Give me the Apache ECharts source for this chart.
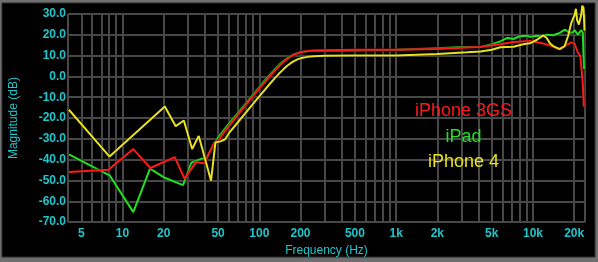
<!DOCTYPE html>
<html><head><meta charset="utf-8">
<script src="https://cdn.jsdelivr.net/npm/echarts@6/dist/echarts.min.js"></script>
<style>html,body{margin:0;padding:0;background:#6f6f6f;}#c{width:598px;height:262px;}</style>
</head><body><div id="c"></div>
<script>
// grid line frequencies (Hz) and labelled frequencies
const gridFreqs = [4,5,6,7,8,9,10,20,30,40,50,60,70,80,90,100,200,300,400,500,600,700,800,900,1000,2000,3000,4000,5000,6000,7000,8000,9000,10000,20000,24000];
const labelFreqs = [5,10,20,50,100,200,500,1000,2000,5000,10000,20000];
const yTicks = [-70,-60,-50,-40,-30,-20,-10,0,10,20,30];

// [frequency Hz, magnitude dB]
const iphone3gs = [
[4.06,-45.9],[7.9,-44.8],[12.0,-34.9],[16.0,-44.0],[24.1,-38.8],[28.4,-49.1],[34.5,-41.2],[39.7,-41.7],[46.9,-31.7],[50,-31.0],[55,-27.0],[60,-24.0],[70,-18.3],[80,-13.6],[90,-9.5],[100,-5.9],[110,-2.7],[120,0.2],[130,2.8],[140,5.0],[150,6.9],[160,8.4],[170,9.6],[180,10.5],[200,11.6],[225,12.2],[250,12.5],[300,12.6],[500,12.8],[1000,12.8],[2000,13.2],[3300,13.9],[4130,14.1],[5770,15.5],[7200,16.5],[9500,17.0],[11240,16.2],[12560,15.4],[14030,14.2],[15250,13.2],[15700,13.5],[17060,14.6],[19060,16.4],[19590,17.0],[20140,15.6],[21280,11.5],[22170,9.9],[22750,2.1],[23140,-4.0],[23550,-14.5]
];
const ipad = [
[4.06,-37.5],[8.05,-47.5],[12.0,-65.2],[15.9,-44.3],[20.4,-48.7],[27.7,-52.2],[31.8,-41.5],[37.6,-39.6],[40.8,-39.3],[48.2,-31.0],[50,-29.3],[55,-25.8],[60,-22.7],[70,-17.4],[80,-12.8],[90,-8.7],[100,-5.1],[110,-1.8],[120,1.0],[130,3.5],[140,5.7],[150,7.4],[165,9.4],[180,10.7],[200,11.6],[225,12.1],[250,12.3],[300,12.4],[500,12.5],[1000,12.8],[2000,13.6],[3000,14.1],[4130,14.2],[5000,15.5],[5770,16.8],[6500,18.5],[7200,18.0],[8000,19.3],[9000,19.6],[9500,19.0],[10640,19.6],[11880,19.4],[12560,20.0],[14030,19.8],[15700,20.9],[17060,22.5],[18540,20.9],[19590,21.3],[20140,22.3],[21280,20.1],[22540,22.2],[23140,21.0],[23420,10.0],[23600,3.5]
];
const iphone4 = [
[4.06,-16.0],[8.05,-38.5],[20.4,-14.4],[24.5,-23.9],[28.1,-21.2],[32.3,-34.9],[36.1,-28.6],[44.4,-50.1],[47.8,-31.7],[52,-31.2],[56,-30.3],[60,-27.3],[70,-21.9],[80,-17.3],[90,-13.2],[100,-9.6],[110,-6.3],[120,-3.4],[130,-0.8],[140,1.5],[150,3.4],[160,5.1],[175,7.0],[190,8.2],[200,8.7],[225,9.4],[250,9.7],[300,9.9],[500,10.0],[1000,10.1],[2000,10.8],[3300,11.6],[4130,12.0],[5000,12.8],[5770,14.0],[7200,14.3],[8500,15.5],[9500,15.9],[10640,17.5],[11880,19.7],[12560,18.6],[13280,16.0],[14030,14.6],[15700,13.1],[16140,13.3],[17060,14.6],[18030,19.3],[19060,25.7],[20140,29.6],[20600,32.5],[21000,27.2],[21630,24.9],[22540,29.6],[22910,34.0],[23420,33.0],[23800,22.0]
];
const seriesNames = ['iPhone 3GS','iPad','iPhone 4'];
const seriesColors = ['#ff1a1a','#22e022','#e8e020'];

const cyan = '#1fc6cc';
const gridColor = '#484848';
const chart = echarts.init(document.getElementById('c'));
const mkLine = (name, data, color) => ({
  name, type:'line', data, showSymbol:false, clip:false, smooth:false,
  lineStyle:{color, width:2, shadowColor:'rgba(0,0,0,0.9)', shadowBlur:2},
  itemStyle:{color}, z:3
});
const legendFont = '18px "Liberation Sans", Arial, sans-serif';
chart.setOption({
  backgroundColor:'transparent',
  animation:false,
  graphic:[
    {type:'rect', shape:{x:2,y:3,width:593,height:254}, style:{fill:'#000', stroke:'#2a2a2a', lineWidth:1}, z:-10, silent:true},
    {type:'text', x:463.5, y:111.5, style:{text:seriesNames[0], fill:seriesColors[0], font:legendFont, textAlign:'center', textVerticalAlign:'middle'}, z:10},
    {type:'text', x:463.5, y:137, style:{text:seriesNames[1], fill:seriesColors[1], font:legendFont, textAlign:'center', textVerticalAlign:'middle'}, z:10},
    {type:'text', x:463.5, y:162.5, style:{text:seriesNames[2], fill:seriesColors[2], font:legendFont, textAlign:'center', textVerticalAlign:'middle'}, z:10}
  ],
  grid:{left:64, top:14, width:521, height:212, containLabel:false},
  xAxis:{
    type:'log', logBase:10, min:4, max:24000,
    axisLine:{show:false},
    axisTick:{show:false, customValues:gridFreqs},
    splitLine:{show:true, lineStyle:{color:gridColor, width:2}},
    axisLabel:{customValues:labelFreqs, color:cyan, fontSize:12, fontWeight:'bold', fontFamily:'"Liberation Sans", Arial, sans-serif', margin:6,
      formatter:v => v >= 1000 ? (v/1000)+'k' : String(v)},
    name:'Frequency (Hz)', nameLocation:'middle', nameGap:19,
    nameTextStyle:{color:cyan, fontSize:12, fontFamily:'"Liberation Sans", Arial, sans-serif'}
  },
  yAxis:{
    type:'value', min:-70, max:30, interval:10,
    axisLine:{show:false}, axisTick:{show:false},
    splitLine:{show:true, lineStyle:{color:gridColor, width:2}},
    axisLabel:{color:cyan, fontSize:12, fontWeight:'bold', fontFamily:'"Liberation Sans", Arial, sans-serif', margin:2,
      formatter:v => v.toFixed(1)},
    name:'Magnitude (dB)', nameLocation:'middle', nameGap:48, nameRotate:90,
    nameTextStyle:{color:cyan, fontSize:12, fontFamily:'"Liberation Sans", Arial, sans-serif'}
  },
  series:[
    mkLine(seriesNames[1], ipad, seriesColors[1]),
    mkLine(seriesNames[0], iphone3gs, seriesColors[0]),
    mkLine(seriesNames[2], iphone4, seriesColors[2])
  ]
});
</script></body></html>
